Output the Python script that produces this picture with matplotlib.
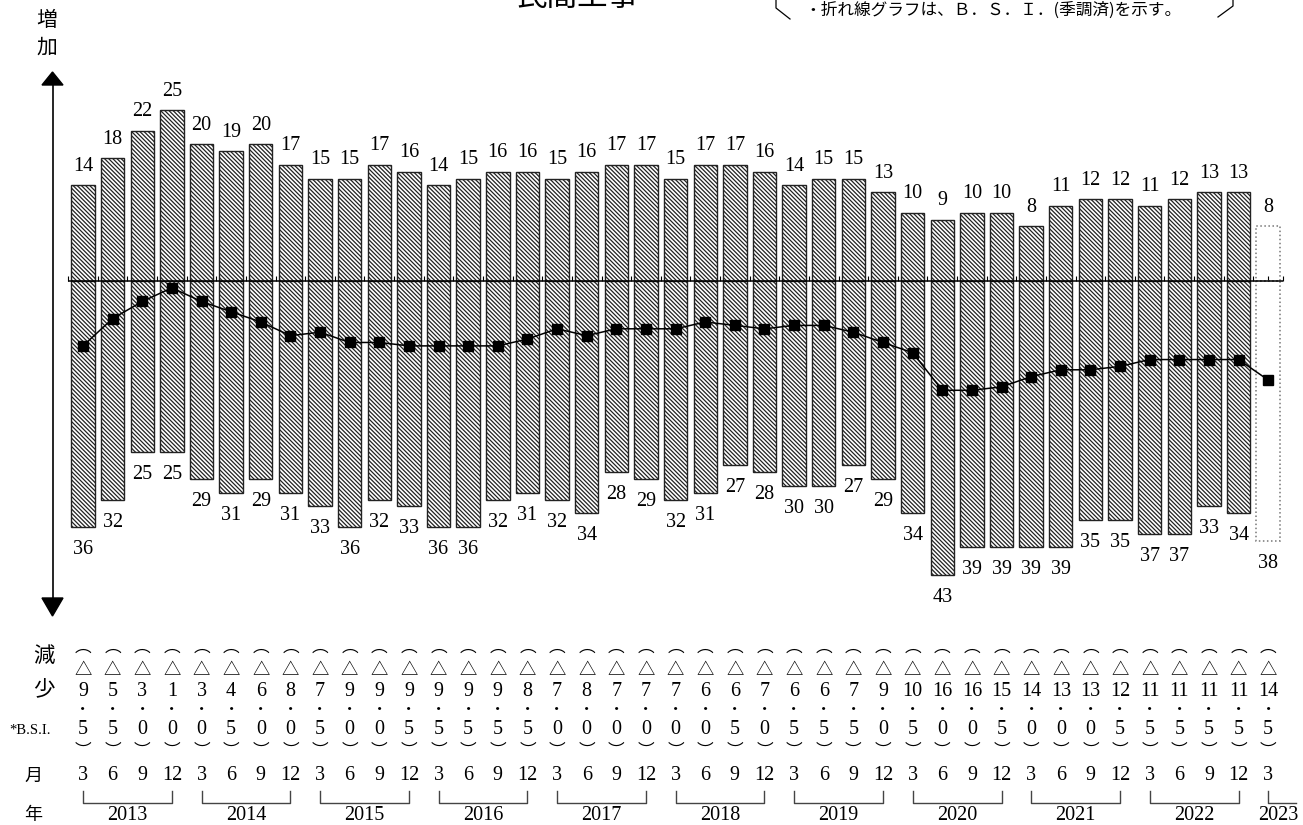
import matplotlib
matplotlib.use('Agg')
import matplotlib.pyplot as plt
from matplotlib.patches import Polygon

# ---------------- data ----------------
increase = [14, 18, 22, 25, 20, 19, 20, 17, 15, 15, 17, 16, 14, 15, 16, 16,
            15, 16, 17, 17, 15, 17, 17, 16, 14, 15, 15, 13, 10, 9, 10, 10,
            8, 11, 12, 12, 11, 12, 13, 13, 8]
decrease = [36, 32, 25, 25, 29, 31, 29, 31, 33, 36, 32, 33, 36, 36, 32, 31,
            32, 34, 28, 29, 32, 31, 27, 28, 30, 30, 27, 29, 34, 43, 39, 39,
            39, 39, 35, 35, 37, 37, 33, 34, 38]
bsi = [-9.5, -5.5, -3.0, -1.0, -3.0, -4.5, -6.0, -8.0, -7.5, -9.0, -9.0, -9.5,
       -9.5, -9.5, -9.5, -8.5, -7.0, -8.0, -7.0, -7.0, -7.0, -6.0, -6.5, -7.0,
       -6.5, -6.5, -7.5, -9.0, -10.5, -16.0, -16.0, -15.5, -14.0, -13.0, -13.0,
       -12.5, -11.5, -11.5, -11.5, -11.5, -14.5]
months = [3, 6, 9, 12] * 10 + [3]
years = ['2013', '2014', '2015', '2016', '2017', '2018', '2019', '2020',
         '2021', '2022', '2023']
title = '民間工事'
note = '・折れ線グラフは、Ｂ．Ｓ．Ｉ．(季調済)を示す。'

# ---------------- layout helpers (pixel -> data) ----------------
W, H = 1303, 825
X0, DX = 83.0, 29.63
Y0, DY = 281.0, 6.83


def px(x):
    return (x - X0) / DX


def py(y):
    return (Y0 - y) / DY


CJK = ['Noto Sans CJK JP', 'DejaVu Sans']
SERIF = ['Liberation Serif', 'DejaVu Serif']
NUMSIZE = 14.5
plt.rcParams['hatch.linewidth'] = 0.9

fig = plt.figure(figsize=(W / 100, H / 100), dpi=100)
ax = fig.add_axes([0, 0, 1, 1])
ax.set_xlim(px(0), px(W))
ax.set_ylim(py(H), py(0))
ax.axis('off')

n = len(increase)
idx = list(range(n))
bw = 0.79
HATCH = '\\' * 8

# hatched bars (all but last)
ax.bar(idx[:-1], increase[:-1], width=bw, facecolor='white', edgecolor='#222222',
       hatch=HATCH, linewidth=1.0, zorder=2)
ax.bar(idx[:-1], [-d for d in decrease[:-1]], width=bw, facecolor='white',
       edgecolor='#222222', hatch=HATCH, linewidth=1.0, zorder=2)
# last (preliminary) bar: dotted outline, no hatch
ax.bar([idx[-1]], [increase[-1]], width=bw, facecolor='none', edgecolor='#777777',
       linestyle=':', linewidth=1.1, zorder=2)
ax.bar([idx[-1]], [-decrease[-1]], width=bw, facecolor='none', edgecolor='#777777',
       linestyle=':', linewidth=1.1, zorder=2)

# zero line with small ticks
ax.hlines(0, -0.5, n - 0.5, color='black', lw=1.1, zorder=4)
edges = [i - 0.5 for i in range(n + 1)]
ax.vlines(edges, 0, 5 / DY, color='black', lw=0.8, zorder=4)
ax.vlines(idx, 0, 5 / DY, color='black', lw=0.8, zorder=1)

# BSI line
ax.plot(idx, bsi, color='black', lw=1.1, marker='s', ms=7, zorder=5)

# value labels
for i, v in enumerate(increase):
    ax.text(i, v + 19 / DY, str(v), ha='center', va='center', fontsize=NUMSIZE,
            family=SERIF)
for i, d in enumerate(decrease):
    ax.text(i, -d - 22.5 / DY, str(d), ha='center', va='center', fontsize=NUMSIZE,
            family=SERIF)

# vertical double arrow
ax.plot([px(52.5), px(52.5)], [py(84), py(599)], color='black', lw=1.2)
ax.add_patch(Polygon([(px(42), py(85)), (px(63), py(85)), (px(52.5), py(72))],
                     closed=True, color='black'))
ax.add_patch(Polygon([(px(42), py(598)), (px(63), py(598)), (px(52.5), py(616))],
                     closed=True, color='black'))
ax.text(px(47), py(20), '増', ha='center', va='center', fontsize=15, family=CJK)
ax.text(px(47), py(48), '加', ha='center', va='center', fontsize=15, family=CJK)
ax.text(px(44), py(656), '減', ha='center', va='center', fontsize=15.5, family=CJK)
ax.text(px(44), py(690), '少', ha='center', va='center', fontsize=15.5, family=CJK)

# bottom table
for i, v in enumerate(bsi):
    a = abs(v)
    ip = int(a)
    dp = int(round((a - ip) * 10))
    ax.text(i, py(647), '︵', ha='center', va='center', fontsize=12, family=CJK)
    ax.text(i, py(670), '△', ha='center', va='center', fontsize=12.5, family=CJK)
    ax.text(i, py(691), str(ip), ha='center', va='center', fontsize=NUMSIZE, family=SERIF)
    ax.text(i, py(710), '・', ha='center', va='center', fontsize=11, family=CJK)
    ax.text(i, py(730), str(dp), ha='center', va='center', fontsize=NUMSIZE, family=SERIF)
    ax.text(i, py(751), '︶', ha='center', va='center', fontsize=12, family=CJK)
for i, m in enumerate(months):
    ax.text(i, py(776), str(m), ha='center', va='center', fontsize=NUMSIZE, family=SERIF)

ax.text(px(30), py(730), '*B.S.I.', ha='center', va='center', fontsize=10.5, family=SERIF)
ax.text(px(33), py(776), '月', ha='center', va='center', fontsize=13, family=CJK)
ax.text(px(33), py(815), '年', ha='center', va='center', fontsize=13, family=CJK)

for k, yr in enumerate(years):
    i0 = 4 * k
    if yr != years[-1]:
        ax.plot([i0, i0, i0 + 3, i0 + 3], [py(791), py(803), py(803), py(791)],
                color='#444444', lw=1.0)
        ax.text(i0 + 1.5, py(816), yr, ha='center', va='center', fontsize=NUMSIZE,
                family=SERIF)
    else:
        ax.plot([i0, i0, px(1296)], [py(791), py(803), py(803)], color='#444444', lw=1.0)
        ax.text(i0 + 0.35, py(816), yr, ha='center', va='center', fontsize=NUMSIZE,
                family=SERIF)

# title (partially cut at top, as in the reference) and note
ax.text(px(577), py(-3), title, ha='center', va='center', fontsize=22, family=CJK)
ax.text(px(804), py(10), note, ha='left', va='center', fontsize=12, family=CJK)
ax.plot([px(776), px(776), px(790)], [py(0), py(8), py(19)], color='black', lw=0.9)
ax.plot([px(1233), px(1233), px(1218)], [py(0), py(6), py(17)], color='black', lw=0.9)

fig.savefig('out.png', dpi=100)
